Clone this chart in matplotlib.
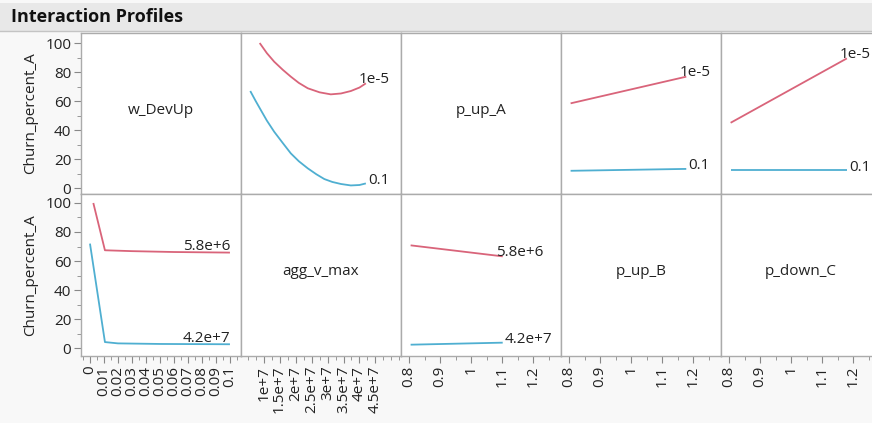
import matplotlib.pyplot as plt
from matplotlib.ticker import FixedLocator, MultipleLocator
from matplotlib.patches import Rectangle
from matplotlib.lines import Line2D

plt.rcParams['font.family'] = ['Open Sans', 'DejaVu Sans']

W, H = 872, 423
RED = '#d9647a'
BLUE = '#4fafd1'
BORDER = '#ababab'
TXT = '#222222'
FS = 11

factors = ['w_DevUp', 'agg_v_max', 'p_up_A', 'p_up_B', 'p_down_C']
response = 'Churn_percent_A'
row1_levels = ['1e-5', '0.1']        # w_DevUp levels
row2_levels = ['5.8e+6', '4.2e+7']   # agg_v_max levels

# top row, x = agg_v_max
agg_x_hi = [0.875e7, 1.1e7, 1.33e7, 1.6e7, 1.85e7, 2.1e7, 2.38e7, 2.75e7,
            3.1e7, 3.42e7, 3.73e7, 4.0e7, 4.2e7]
agg_y_hi = [100.0, 93.0, 87.1, 81.5, 76.8, 72.5, 68.8, 66.0,
            64.6, 65.2, 66.9, 69.3, 72.2]
agg_x_lo = [0.58e7, 0.75e7, 0.91e7, 1.1e7, 1.33e7, 1.6e7, 1.85e7, 2.1e7,
            2.38e7, 2.65e7, 2.9e7, 3.15e7, 3.42e7, 3.73e7, 4.0e7, 4.2e7]
agg_y_lo = [66.9, 60.0, 53.8, 46.5, 38.8, 31.0, 23.9, 18.5,
            13.6, 9.5, 6.2, 4.2, 2.8, 1.8, 2.1, 3.2]

# top row, x = p_up_B and p_down_C
pub_x = [0.805, 1.178]
pub_y_hi = [58.4, 76.8]
pub_y_lo = [11.9, 13.2]
pdc_x = [0.805, 1.18]
pdc_y_hi = [45.0, 89.4]
pdc_y_lo = [12.4, 12.4]

# bottom row, x = w_DevUp
wdu_x_hi = [0.0024, 0.0107, 0.03, 0.06, 0.1]
wdu_y_hi = [100.0, 67.4, 66.8, 66.2, 65.8]
wdu_x_lo = [0.00001, 0.0107, 0.02, 0.05, 0.1]
wdu_y_lo = [72.0, 4.1, 3.2, 2.8, 2.6]

# bottom row, x = p_up_A
pua_x = [0.805, 1.102]
pua_y_hi = [70.8, 63.2]
pua_y_lo = [2.3, 3.7]

# (row, col) -> curves
panels = {
    (0, 1): [(agg_x_hi, agg_y_hi, RED, row1_levels[0], 'left'),
             (agg_x_lo, agg_y_lo, BLUE, row1_levels[1], 'left')],
    (0, 3): [(pub_x, pub_y_hi, RED, row1_levels[0], 'left'),
             (pub_x, pub_y_lo, BLUE, row1_levels[1], 'left')],
    (0, 4): [(pdc_x, pdc_y_hi, RED, row1_levels[0], 'left'),
             (pdc_x, pdc_y_lo, BLUE, row1_levels[1], 'left')],
    (1, 0): [(wdu_x_hi, wdu_y_hi, RED, row2_levels[0], 'right'),
             (wdu_x_lo, wdu_y_lo, BLUE, row2_levels[1], 'right')],
    (1, 2): [(pua_x, pua_y_hi, RED, row2_levels[0], 'left'),
             (pua_x, pua_y_lo, BLUE, row2_levels[1], 'left')],
}
diag = {(0, 0): factors[0], (1, 1): factors[1], (0, 2): factors[2],
        (1, 3): factors[3], (1, 4): factors[4]}

x_ticks = [
    [i / 100 for i in range(11)],
    [1e7, 1.5e7, 2e7, 2.5e7, 3e7, 3.5e7, 4e7, 4.5e7],
    [0.8, 0.9, 1.0, 1.1, 1.2],
    [0.8, 0.9, 1.0, 1.1, 1.2],
    [0.8, 0.9, 1.0, 1.1, 1.2],
]
x_labels = [
    ['0', '0.01', '0.02', '0.03', '0.04', '0.05', '0.06', '0.07', '0.08', '0.09', '0.1'],
    ['1e+7', '1.5e+7', '2e+7', '2.5e+7', '3e+7', '3.5e+7', '4e+7', '4.5e+7'],
    ['0.8', '0.9', '1', '1.1', '1.2'],
    ['0.8', '0.9', '1', '1.1', '1.2'],
    ['0.8', '0.9', '1', '1.1', '1.2'],
]
x_minor = [0.005, 0.25e7, 0.05, 0.05, 0.05]
x_lims = [(-0.0064, 0.1079), (0.29e7, 5.3e7), (0.774, 1.29), (0.774, 1.29), (0.774, 1.29)]
y_ticks = [0, 20, 40, 60, 80, 100]
y_lims = [(-4.1, 106.9), (-5.5, 106.2)]


def px_rect(x0, y0, w, h):
    return [x0 / W, 1 - (y0 + h) / H, w / W, h / H]


fig = plt.figure(figsize=(W / 100, H / 100), dpi=100, facecolor='#f8f8f8')

# title band
fig.patches.append(Rectangle((0, 1 - 31 / H), 1, 28 / H, transform=fig.transFigure,
                             facecolor='#e8e8e8', edgecolor='none', zorder=0))
fig.lines.append(Line2D([0, 1], [1 - 31 / H] * 2, transform=fig.transFigure,
                        color='#c4c4c4', lw=1))
fig.text(11 / W, 1 - 17 / H, 'Interaction Profiles', fontsize=13, fontweight='bold',
         color='#111111', va='center', ha='left')

row_y = [(33, 161), (194, 162)]
for r in range(2):
    y0, h = row_y[r]
    for c in range(5):
        ax = fig.add_axes(px_rect(81 + 160 * c, y0, 160, h))
        ax.set_facecolor('white')
        for s in ax.spines.values():
            s.set_color(BORDER)
            s.set_linewidth(1)
        ax.set_xlim(x_lims[c])
        ax.set_ylim(y_lims[r])
        ax.tick_params(which='both', left=False, bottom=False,
                       labelleft=False, labelbottom=False, colors=TXT)

        if c == 0:
            ax.yaxis.set_major_locator(FixedLocator(y_ticks))
            ax.yaxis.set_minor_locator(MultipleLocator(10))
            ax.tick_params(axis='y', which='both', left=True, labelleft=True,
                           color='#888888', labelsize=FS, labelcolor=TXT)
            ax.tick_params(axis='y', which='major', length=5, pad=2)
            ax.tick_params(axis='y', which='minor', length=3)
            ax.set_ylabel(response, fontsize=FS, color=TXT, labelpad=5)

        if r == 1:
            ax.xaxis.set_major_locator(FixedLocator(x_ticks[c]))
            ax.set_xticklabels(x_labels[c], rotation=90)
            ax.xaxis.set_minor_locator(MultipleLocator(x_minor[c]))
            ax.tick_params(axis='x', which='both', bottom=True, labelbottom=True,
                           color='#888888', labelsize=FS, labelcolor=TXT)
            ax.tick_params(axis='x', which='major', length=5, pad=2)
            ax.tick_params(axis='x', which='minor', length=3)

        if (r, c) in diag:
            ax.text(0.5, 0.52, diag[(r, c)], transform=ax.transAxes, ha='center',
                    va='center', fontsize=FS, color=TXT)

        for xs, ys, col, lab, ha in panels.get((r, c), []):
            ax.plot(xs, ys, color=col, lw=1.3, solid_capstyle='butt')
            if ha == 'right':
                dx, dy = 0, 6
            elif col == RED:
                dx, dy = -7, 4
            else:
                dx, dy = 2, 3
            ax.annotate(lab, xy=(xs[-1], ys[-1]), xytext=(dx, dy),
                        textcoords='offset pixels', ha=ha, va='center',
                        fontsize=FS, color=TXT)

fig.savefig('out.png', dpi=100, facecolor=fig.get_facecolor())
